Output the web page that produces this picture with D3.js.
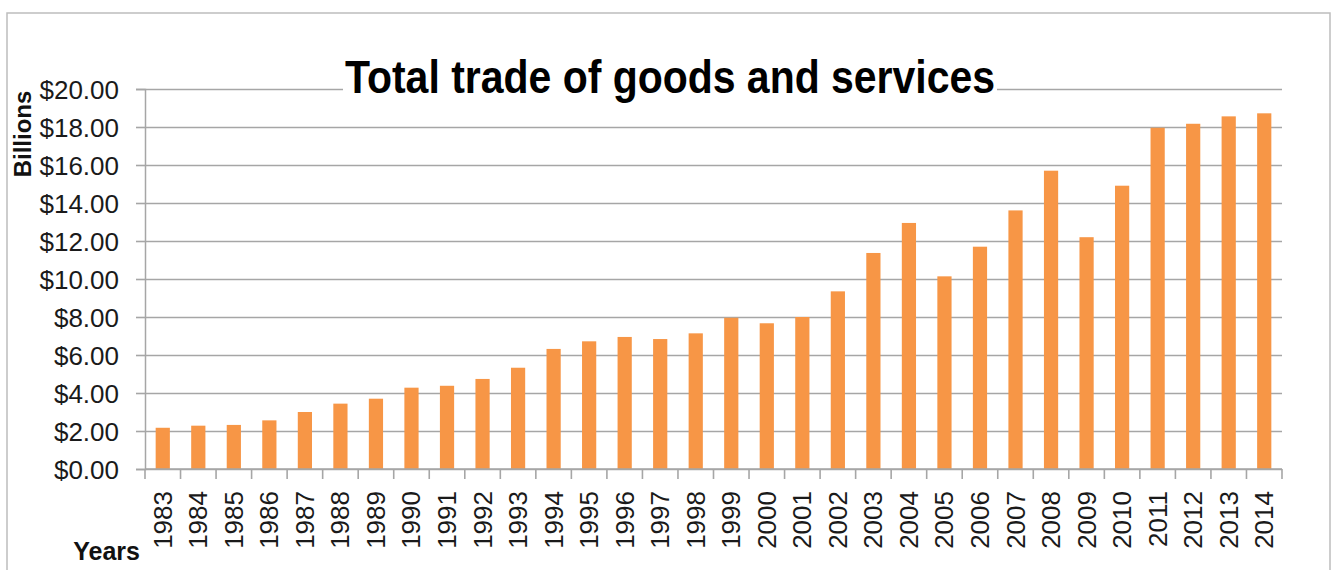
<!DOCTYPE html>
<html>
<head>
<meta charset="utf-8">
<script src="https://cdn.jsdelivr.net/npm/d3@7"></script>
<style>
  html, body { margin: 0; padding: 0; background: #fff; }
  svg { display: block; }
</style>
</head>
<body>
<svg id="chart" width="1335" height="570"></svg>
<script>
// Total trade of goods and services, billions of dollars per year
const years = ["1983","1984","1985","1986","1987","1988","1989","1990","1991","1992",
  "1993","1994","1995","1996","1997","1998","1999","2000","2001","2002","2003",
  "2004","2005","2006","2007","2008","2009","2010","2011","2012","2013","2014"];
const tradeValues = [2.17, 2.28, 2.32, 2.56, 3.00, 3.44, 3.70, 4.28, 4.38, 4.74,
  5.33, 6.32, 6.72, 6.95, 6.84, 7.14, 7.96, 7.67, 8.00, 9.35, 11.37,
  12.95, 10.14, 11.70, 13.61, 15.70, 12.20, 14.91, 17.96, 18.17, 18.56, 18.72];
const yTicks = [0, 2, 4, 6, 8, 10, 12, 14, 16, 18, 20];

const titleText = "Total trade of goods and services";
const yTitle = "Billions";
const xTitle = "Years";

const svg = d3.select("#chart");
const plot = { left: 145, right: 1282, top: 89, bottom: 469 };

// outer chart frame
svg.append("rect")
  .attr("x", 7).attr("y", 13)
  .attr("width", 1323).attr("height", 570)
  .attr("fill", "#fff").attr("stroke", "#bdbdbd").attr("stroke-width", 1.5);

const x = d3.scaleBand()
  .domain(years)
  .range([plot.left, plot.right])
  .paddingInner(0.6)
  .paddingOuter(0.3);

const y = d3.scaleLinear()
  .domain([0, 20])
  .range([plot.bottom, plot.top]);

// horizontal gridlines
svg.append("g")
  .attr("transform", `translate(${plot.left},0)`)
  .call(d3.axisLeft(y).tickValues(yTicks).tickSize(-(plot.right - plot.left)).tickFormat(""))
  .call(g => g.select(".domain").remove())
  .call(g => g.selectAll(".tick line").attr("stroke", "#a6a6a6").attr("stroke-width", 1.6));

// y axis with outside tick marks and currency labels
svg.append("g")
  .attr("transform", `translate(${plot.left},0)`)
  .call(d3.axisLeft(y).tickValues(yTicks).tickSize(9).tickPadding(17)
    .tickFormat(d => "$" + d.toFixed(2)))
  .call(g => g.select(".domain").attr("stroke", "#a6a6a6").attr("stroke-width", 1.5))
  .call(g => g.selectAll(".tick line").attr("stroke", "#a6a6a6").attr("stroke-width", 1.6))
  .call(g => g.selectAll(".tick text")
    .attr("font-family", "'Liberation Sans Narrow', 'Liberation Sans', sans-serif")
    .attr("font-size", 26).attr("fill", "#1a1a1a").attr("dy", "0.36em"));

// bars
svg.append("g")
  .selectAll("rect")
  .data(years.map((yr, i) => ({ year: yr, value: tradeValues[i] })))
  .join("rect")
  .attr("x", d => x(d.year))
  .attr("y", d => y(d.value))
  .attr("width", x.bandwidth())
  .attr("height", d => y(0) - y(d.value))
  .attr("fill", "#f79646");

// x axis: baseline, category boundary ticks and rotated year labels
const xAxis = svg.append("g").attr("transform", `translate(0,${plot.bottom})`);
xAxis.append("line")
  .attr("x1", plot.left).attr("x2", plot.right)
  .attr("stroke", "#a6a6a6").attr("stroke-width", 1.6);
const gap = (x.step() - x.bandwidth()) / 2;
const boundaries = years.map(yr => x(yr) - gap).concat([x(years[years.length - 1]) + x.bandwidth() + gap]);
xAxis.selectAll("line.bound")
  .data(boundaries)
  .join("line")
  .attr("class", "bound")
  .attr("x1", d => d).attr("x2", d => d)
  .attr("y1", 0).attr("y2", 10)
  .attr("stroke", "#a6a6a6").attr("stroke-width", 1.6);
xAxis.selectAll("text.yr")
  .data(years)
  .join("text")
  .attr("class", "yr")
  .attr("transform", d => `translate(${x(d) + x.bandwidth() / 2 + 9},22) rotate(-90)`)
  .attr("text-anchor", "end")
  .attr("font-family", "'Liberation Sans', Arial, sans-serif")
  .attr("font-size", 26)
  .attr("fill", "#1a1a1a")
  .text(d => d);

// chart title with white backing over the top gridline
const title = svg.append("g");
const titleBg = title.append("rect").attr("fill", "#fff");
const tt = title.append("text")
  .attr("x", 670).attr("y", 93)
  .attr("text-anchor", "middle")
  .attr("font-family", "'Liberation Sans Narrow', 'Liberation Sans', sans-serif")
  .attr("font-weight", "bold")
  .attr("font-size", 46)
  .attr("textLength", 650)
  .attr("lengthAdjust", "spacingAndGlyphs")
  .attr("fill", "#000")
  .text(titleText);
const bb = tt.node().getBBox();
titleBg.attr("x", bb.x - 2).attr("y", bb.y).attr("width", bb.width + 4).attr("height", bb.height);

// axis titles
svg.append("text")
  .attr("transform", "translate(31,134) rotate(-90)")
  .attr("text-anchor", "middle")
  .attr("font-family", "'Liberation Sans Narrow', 'Liberation Sans', sans-serif")
  .attr("font-weight", "bold")
  .attr("font-size", 24)
  .attr("fill", "#111")
  .text(yTitle);

svg.append("text")
  .attr("x", 140).attr("y", 560)
  .attr("text-anchor", "end")
  .attr("font-family", "'Liberation Sans Narrow', 'Liberation Sans', sans-serif")
  .attr("font-weight", "bold")
  .attr("font-size", 25)
  .attr("fill", "#111")
  .text(xTitle);
</script>
</body>
</html>
